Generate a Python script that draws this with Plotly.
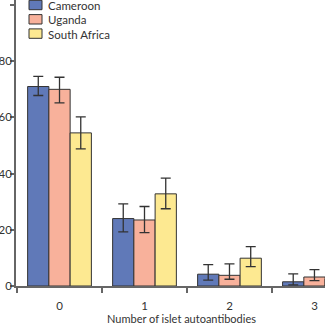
import plotly.graph_objects as go

categories = [0, 1, 2, 3]
category_labels = ["0", "1", "2", "3"]
series_names = ["Cameroon", "Uganda", "South Africa"]
cameroon = [71.0, 24.0, 4.2, 1.5]
cameroon_hi = [74.6, 29.2, 7.6, 4.3]
cameroon_lo = [67.8, 19.3, 2.1, 0.4]
uganda = [70.0, 23.5, 3.8, 3.2]
uganda_hi = [74.3, 28.3, 7.9, 5.8]
uganda_lo = [65.2, 19.0, 2.4, 1.9]
south_africa = [54.5, 32.8, 9.9, 2.5]
south_africa_hi = [60.2, 38.4, 14.0, 5.0]
south_africa_lo = [48.8, 27.5, 6.9, 0.8]
y_ticks = [0, 20, 40, 60, 80, 100]
x_title = "Number of islet autoantibodies"

colors = ["#6079b8", "#f8b19b", "#fde991"]
values = [cameroon, uganda, south_africa]
his = [cameroon_hi, uganda_hi, south_africa_hi]
los = [cameroon_lo, uganda_lo, south_africa_lo]

FONT = "Lato, sans-serif"

fig = go.Figure()
for name, col, v, hi, lo in zip(series_names, colors, values, his, los):
    fig.add_trace(go.Bar(
        x=categories, y=v, name=name,
        marker=dict(color=col, line=dict(color="#333333", width=1)),
        error_y=dict(type="data", symmetric=False,
                     array=[h - a for h, a in zip(hi, v)],
                     arrayminus=[a - l for l, a in zip(lo, v)],
                     color="#333333", thickness=1.3, width=5),
        showlegend=False,
    ))

W, H = 325, 325
L, T, B = 16, 0, 39
plot_h = H - T - B

def py(p):
    return (H - B - p) / plot_h

def pxx(p):
    return (p - L) / (W - L)

# manual legend
rows = [5.0, 19.3, 33.6]
for name, col, yc in zip(series_names, colors, rows):
    fig.add_shape(type="rect", xref="paper", yref="paper",
                  x0=pxx(29), x1=pxx(42), y0=py(yc - 4.7), y1=py(yc + 4.7),
                  fillcolor=col, line=dict(color="#333333", width=1))
    fig.add_annotation(xref="paper", yref="paper", x=pxx(46), y=py(yc + 0.5),
                       text=name, showarrow=False, xanchor="left", yanchor="middle",
                       font=dict(size=11.5, color="#333333", family=FONT))

fig.add_annotation(xref="paper", yref="paper", x=pxx(182), y=py(318.5),
                   text=x_title, showarrow=False, xanchor="center", yanchor="middle",
                   font=dict(size=11, color="#333333", family=FONT))

fig.update_layout(
    width=W, height=H,
    margin=dict(l=L, r=0, t=T, b=B),
    paper_bgcolor="white", plot_bgcolor="white",
    barmode="group", bargap=0.25, bargroupgap=0,
    font=dict(family=FONT, size=12, color="#333333"),
    xaxis=dict(range=[-0.512, 3.124], tickvals=categories, ticktext=category_labels,
               ticks="outside", ticklen=0, showline=True, linecolor="#666666", linewidth=1.5,
               showgrid=False, zeroline=False, automargin=False,
               minor=dict(ticks="outside", tick0=-0.5, dtick=1, ticklen=5,
                          tickcolor="#666666", tickwidth=1.5, showgrid=False),
               ticklabelstandoff=8,
               tickfont=dict(size=11.5, color="#333333", family=FONT)),
    yaxis=dict(range=[0, 101.8], tickvals=y_ticks, ticks="outside", ticklen=4,
               tickcolor="#666666", tickwidth=1.5, showline=True, linecolor="#666666",
               linewidth=1.5, showgrid=False, zeroline=False, automargin=False,
               ticklabelstandoff=-4,
               tickfont=dict(size=11.5, color="#333333", family=FONT)),
)

fig.write_html("out.html")
